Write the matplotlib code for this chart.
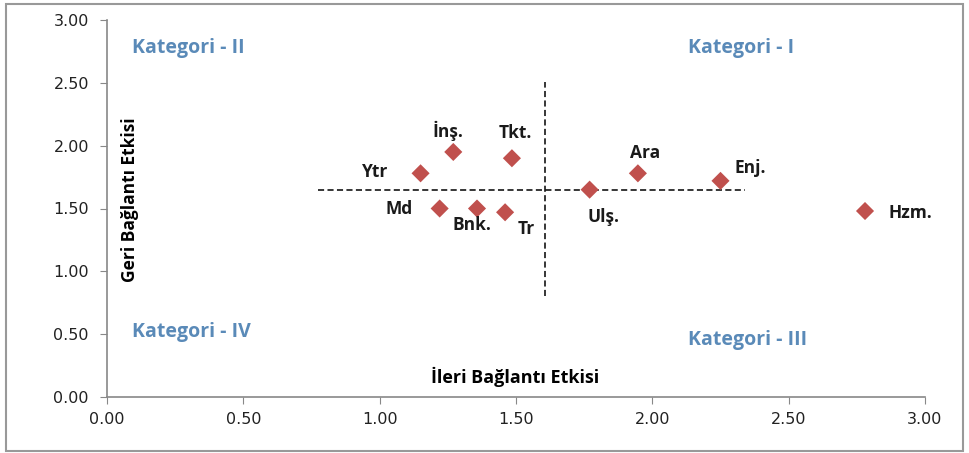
import matplotlib.pyplot as plt
from matplotlib.patches import Rectangle

# sektör kısaltmaları ve bağlantı etkileri
sektorler = ["Ytr", "İnş.", "Tkt.", "Md", "Bnk.", "Tr", "Ulş.", "Ara", "Enj.", "Hzm."]
ileri = [1.15, 1.27, 1.485, 1.22, 1.357, 1.46, 1.77, 1.947, 2.25, 2.78]
geri = [1.78, 1.95, 1.90, 1.50, 1.50, 1.47, 1.65, 1.78, 1.72, 1.48]

# ortalama çizgileri
ort_ileri = 1.606
ort_geri = 1.65

# etiket kaydırmaları (piksel)
etiket_ofset = [(-45, 1), (-5, 21), (3, 25), (-41, -1), (-5, -16), (21, -17),
                (14, -27), (7, 20), (30, 13), (45, -2)]

fig = plt.figure(figsize=(9.69, 4.53), dpi=100)
ax = fig.add_axes([107 / 969, 1 - 397 / 453, (925 - 107) / 969, (397 - 20) / 453])

ax.scatter(ileri, geri, marker="D", s=85, color="#C0504D", edgecolors="none", zorder=3)

for ad, x, y, (dx, dy) in zip(sektorler, ileri, geri, etiket_ofset):
  ax.annotate(ad, (x, y), xytext=(dx, dy), textcoords="offset pixels",
              ha="center", va="center", fontsize=12.5, fontweight="bold",
              family="Open Sans", color="#1a1a1a")

ax.plot([ort_ileri, ort_ileri], [0.80, 2.51], ls=(0, (4, 2.2)), color="black", lw=1.1)
ax.plot([0.775, 2.34], [ort_geri, ort_geri], ls=(0, (4, 2.2)), color="black", lw=1.1)

kat_renk = "#5A8AB8"
kategoriler = [("Kategori - II", 0.30, 2.78), ("Kategori - I", 2.325, 2.78),
               ("Kategori - IV", 0.31, 0.52), ("Kategori - III", 2.35, 0.45)]
for ad, x, y in kategoriler:
  ax.text(x, y, ad, ha="center", va="center", fontsize=14,
          fontweight="bold", family="Open Sans", color=kat_renk)

ax.text(1.495, 0.16, "İleri Bağlantı Etkisi", ha="center", va="center", fontsize=13,
        fontweight="bold", family="Open Sans", color="black")
ax.text(0.085, 1.57, "Geri Bağlantı Etkisi", ha="center", va="center", fontsize=12.5,
        fontweight="bold", family="Open Sans", color="black", rotation=90)

ax.set_xlim(0, 3)
ax.set_ylim(0, 3)
ax.set_xticks([0, 0.5, 1, 1.5, 2, 2.5, 3])
ax.set_yticks([0, 0.5, 1, 1.5, 2, 2.5, 3])
ax.set_xticklabels([f"{v:.2f}" for v in ax.get_xticks()])
ax.set_yticklabels([f"{v:.2f}" for v in ax.get_yticks()])
ax.tick_params(labelsize=11.5, length=5, color="#888888", labelcolor="#222222")
ax.tick_params(axis="x", pad=6)
ax.tick_params(axis="y", pad=8)
for lado in ["top", "right"]:
  ax.spines[lado].set_visible(False)
for lado in ["left", "bottom"]:
  ax.spines[lado].set_color("#888888")
  ax.spines[lado].set_linewidth(1.2)

# moldura externa
fig.patches.append(Rectangle((6 / 969, 2 / 453), 957 / 969, 449 / 453 - 2 / 453,
                             transform=fig.transFigure, fill=False,
                             edgecolor="#999999", lw=1.5))

fig.savefig("out.png", dpi=100)
